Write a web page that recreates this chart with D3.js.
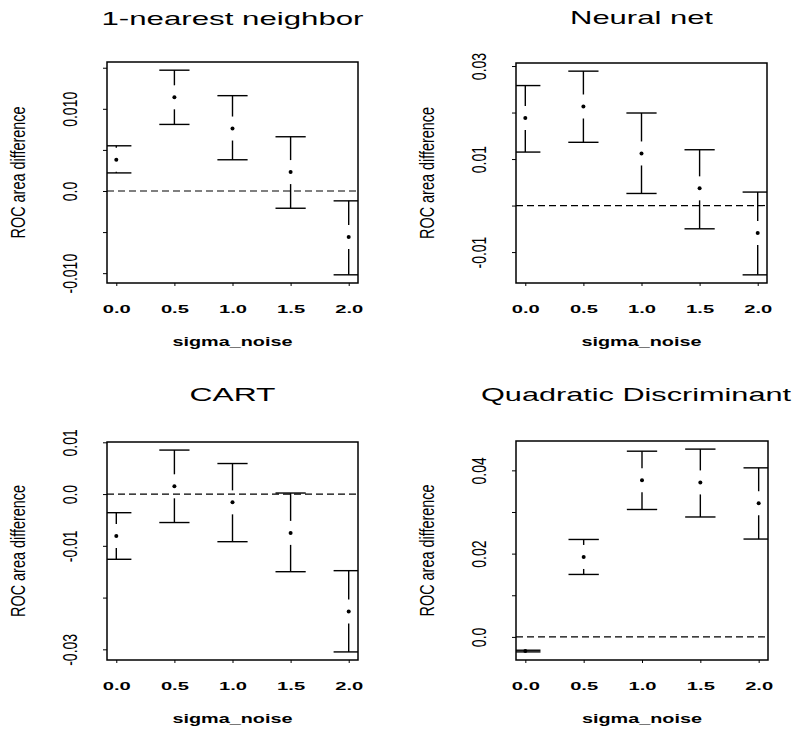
<!DOCTYPE html>
<html>
<head>
<meta charset="utf-8">
<script src="https://cdn.jsdelivr.net/npm/d3@7"></script>
<style>
  body { margin: 0; background: #fff; }
  svg { display: block; }
</style>
</head>
<body>
<div id="chart"></div>
<script>
// x values shared by every panel
const sigmaNoise = [0, 0.5, 1.0, 1.5, 2.0];
const xTickLabels = ["0.0", "0.5", "1.0", "1.5", "2.0"];

const titles = ["1-nearest neighbor", "Neural net", "CART", "Quadratic Discriminant"];

// 1-nearest neighbor
const knnMean  = [0.0038, 0.0114, 0.0076, 0.0023, -0.0056];
const knnLower = [0.0022, 0.0081, 0.0038, -0.0021, -0.0102];
const knnUpper = [0.0055, 0.0147, 0.0116, 0.0066, -0.0012];
const knnTicks = [-0.010, -0.005, 0, 0.005, 0.010, 0.015];
const knnTickLabels = ["-0.010", "", "0.0", "", "0.010", ""];

// Neural net
const nnetMean  = [0.0188, 0.0213, 0.0112, 0.0037, -0.0059];
const nnetLower = [0.0115, 0.0136, 0.0026, -0.0050, -0.0149];
const nnetUpper = [0.0258, 0.0289, 0.0199, 0.0120, 0.0029];
const nnetTicks = [-0.01, 0, 0.01, 0.02, 0.03];
const nnetTickLabels = ["-0.01", "", "0.01", "", "0.03"];

// CART
const cartMean  = [-0.0081, 0.0015, -0.0016, -0.0075, -0.0227];
const cartLower = [-0.0126, -0.0055, -0.0092, -0.0150, -0.0305];
const cartUpper = [-0.0036, 0.0085, 0.0059, 0.0002, -0.0148];
const cartTicks = [-0.03, -0.02, -0.01, 0, 0.01];
const cartTickLabels = ["-0.03", "", "-0.01", "0.0", "0.01"];

// Quadratic discriminant
const qdaMean  = [-0.0034, 0.0192, 0.0376, 0.0371, 0.0321];
const qdaLower = [-0.0036, 0.0150, 0.0306, 0.0288, 0.0235];
const qdaUpper = [-0.0032, 0.0234, 0.0446, 0.0451, 0.0406];
const qdaTicks = [0, 0.01, 0.02, 0.03, 0.04];
const qdaTickLabels = ["0.0", "", "0.02", "", "0.04"];

const yLabel = "ROC area difference";
const xLabel = "sigma_noise";

const W = 806, H = 730;
const font = "'Liberation Sans', Arial, Helvetica, sans-serif";

const panels = [
  { title: titles[0], mean: knnMean, lo: knnLower, hi: knnUpper, ticks: knnTicks, labels: knnTickLabels,
    box: { x0: 107, x1: 358, y0: 62, y1: 283 }, titleY: 25, titleLen: 262 },
  { title: titles[1], mean: nnetMean, lo: nnetLower, hi: nnetUpper, ticks: nnetTicks, labels: nnetTickLabels,
    box: { x0: 516, x1: 767, y0: 63, y1: 283 }, titleY: 24, titleLen: 143 },
  { title: titles[2], mean: cartMean, lo: cartLower, hi: cartUpper, ticks: cartTicks, labels: cartTickLabels,
    box: { x0: 107, x1: 358, y0: 442, y1: 660 }, titleY: 401, titleLen: 86 },
  { title: titles[3], mean: qdaMean, lo: qdaLower, hi: qdaUpper, ticks: qdaTicks, labels: qdaTickLabels,
    box: { x0: 516, x1: 768, y0: 441, y1: 660 }, titleY: 401, titleLen: 310, titleShift: -6 }
];

const svg = d3.select("#chart").append("svg")
  .attr("width", W)
  .attr("height", H)
  .style("font-family", font);

const gap = 12;      // space left blank round each point
const capHalf = 0.13; // half width of the caps, in x units

panels.forEach((p, k) => {
  const b = p.box;
  // R style 4% padding on both axes
  const xExt = d3.extent(sigmaNoise);
  const xPad = (xExt[1] - xExt[0]) * 0.04;
  const x = d3.scaleLinear().domain([xExt[0] - xPad, xExt[1] + xPad]).range([b.x0, b.x1]);
  const yExt = [d3.min(p.lo), d3.max(p.hi)];
  const yPad = (yExt[1] - yExt[0]) * 0.04;
  const y = d3.scaleLinear().domain([yExt[0] - yPad, yExt[1] + yPad]).range([b.y1, b.y0]);

  const g = svg.append("g");

  g.append("clipPath").attr("id", "clip" + k)
    .append("rect")
    .attr("x", b.x0).attr("y", b.y0)
    .attr("width", b.x1 - b.x0).attr("height", b.y1 - b.y0);

  // title
  g.append("text")
    .attr("x", (b.x0 + b.x1) / 2 + (p.titleShift || 0))
    .attr("y", p.titleY)
    .attr("text-anchor", "middle")
    .attr("font-size", 19)
    .attr("textLength", p.titleLen)
    .attr("lengthAdjust", "spacingAndGlyphs")
    .text(p.title);

  // y axis
  const yAxis = g.append("g")
    .attr("transform", `translate(${b.x0},0)`)
    .call(d3.axisLeft(y).tickValues(p.ticks).tickSize(4).tickFormat((d, i) => p.labels[i]));
  yAxis.select(".domain").remove();
  yAxis.selectAll("line").attr("stroke", "#000").attr("stroke-width", 1);
  yAxis.selectAll("text")
    .attr("x", 0).attr("y", -30).attr("dy", null)
    .attr("transform", "rotate(-90)")
    .attr("text-anchor", "middle")
    .attr("font-size", 20)
    .attr("font-family", font)
    .attr("fill", "#000")
    .each(function() {
      const len = this.getComputedTextLength();
      if (len > 0) d3.select(this).attr("textLength", len * 0.7).attr("lengthAdjust", "spacingAndGlyphs");
    });

  // x axis
  const xAxis = g.append("g")
    .attr("transform", `translate(0,${b.y1})`)
    .call(d3.axisBottom(x).tickValues(sigmaNoise).tickSize(3).tickFormat((d, i) => xTickLabels[i]));
  xAxis.select(".domain").remove();
  xAxis.selectAll("line").attr("stroke", "#000").attr("stroke-width", 1);
  xAxis.selectAll("text")
    .attr("y", 30).attr("dy", null)
    .attr("font-size", 11)
    .attr("font-weight", "bold")
    .attr("font-family", font)
    .attr("fill", "#000")
    .attr("textLength", 28)
    .attr("lengthAdjust", "spacingAndGlyphs");

  // axis titles
  g.append("text")
    .attr("x", (b.x0 + b.x1) / 2)
    .attr("y", b.y1 + 63)
    .attr("text-anchor", "middle")
    .attr("font-size", 13.5)
    .attr("font-weight", "bold")
    .attr("textLength", 120)
    .attr("lengthAdjust", "spacingAndGlyphs")
    .text(xLabel);

  g.append("text")
    .attr("transform", `translate(${b.x0 - 82},${(b.y0 + b.y1) / 2}) rotate(-90)`)
    .attr("text-anchor", "middle")
    .attr("font-size", 20)
    .attr("textLength", 132)
    .attr("lengthAdjust", "spacingAndGlyphs")
    .text(yLabel);

  const plot = g.append("g").attr("clip-path", `url(#clip${k})`);

  // zero reference line
  plot.append("line")
    .attr("x1", b.x0).attr("x2", b.x1)
    .attr("y1", y(0)).attr("y2", y(0))
    .attr("stroke", "#000").attr("stroke-width", 1.2)
    .attr("stroke-dasharray", "7,4");

  const rows = sigmaNoise.map((s, i) => ({ s, m: p.mean[i], lo: p.lo[i], hi: p.hi[i] }));

  const bars = plot.selectAll("g.bar").data(rows).enter().append("g").attr("class", "bar");

  // caps
  bars.selectAll("line.cap").data(d => [[d.s, d.hi], [d.s, d.lo]]).enter()
    .append("line").attr("class", "cap")
    .attr("x1", d => x(d[0] - capHalf)).attr("x2", d => x(d[0] + capHalf))
    .attr("y1", d => y(d[1])).attr("y2", d => y(d[1]))
    .attr("stroke", "#000").attr("stroke-width", 1.4);

  // whiskers, broken round the point
  bars.each(function(d) {
    const sel = d3.select(this);
    const cx = x(d.s), cy = y(d.m);
    if (cy - gap > y(d.hi)) {
      sel.append("line").attr("x1", cx).attr("x2", cx)
        .attr("y1", y(d.hi)).attr("y2", cy - gap)
        .attr("stroke", "#000").attr("stroke-width", 1.4);
    }
    if (cy + gap < y(d.lo)) {
      sel.append("line").attr("x1", cx).attr("x2", cx)
        .attr("y1", cy + gap).attr("y2", y(d.lo))
        .attr("stroke", "#000").attr("stroke-width", 1.4);
    }
  });

  bars.append("circle")
    .attr("cx", d => x(d.s)).attr("cy", d => y(d.m))
    .attr("r", 2)
    .attr("fill", "#000");

  // box
  g.append("rect")
    .attr("x", b.x0).attr("y", b.y0)
    .attr("width", b.x1 - b.x0).attr("height", b.y1 - b.y0)
    .attr("fill", "none").attr("stroke", "#000").attr("stroke-width", 1.5);
});
</script>
</body>
</html>
